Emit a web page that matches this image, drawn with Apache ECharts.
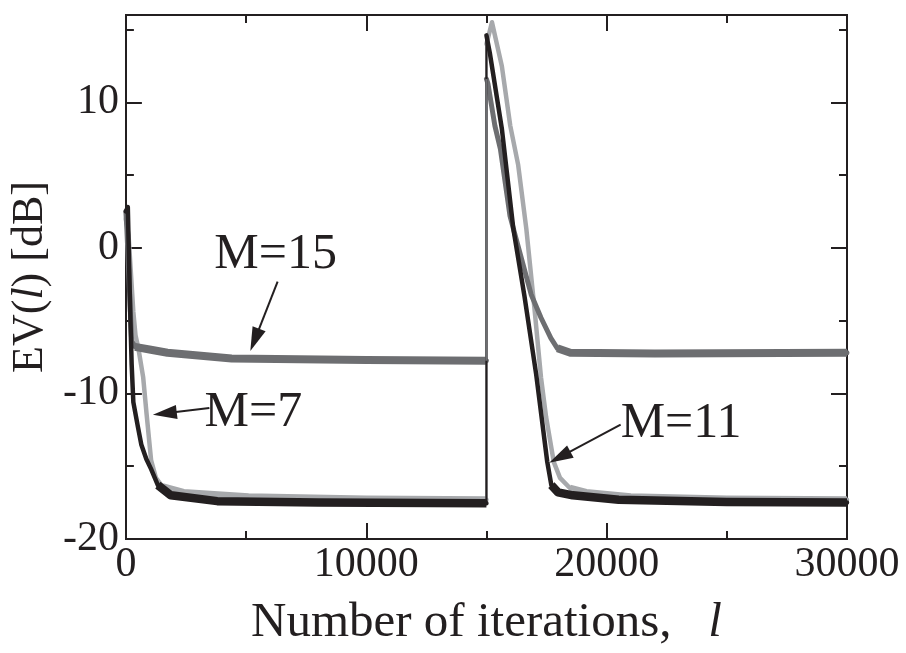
<!DOCTYPE html>
<html><head><meta charset="utf-8">
<script src="https://cdn.jsdelivr.net/npm/echarts@6/dist/echarts.min.js"></script>
<style>html,body{margin:0;padding:0;background:#fff}#c{width:906px;height:653px}</style>
</head><body><div id="c"></div>
<script>
// ---- data (iteration, EV in dB) ----
const xTickValues = [0, 10000, 20000, 30000];
const yTickValues = [-20, -10, 0, 10];

// M=7 (light gray)
const m7Seg1 = [[0,2.0],[110,0.9],[310,-4.4],[400,-6.0],[520,-6.9],[720,-8.9],[860,-11.4],[1050,-14.6],[1250,-15.8],[1520,-16.4],[2400,-16.8],[5100,-17.1],[10000,-17.25],[15000,-17.3]];
const m7Seg2 = [[15000,14.0],[15230,15.5],[15640,12.5],[15990,8.4],[16320,5.7],[16660,1.3],[17000,-4.2],[17270,-8.9],[17480,-11.6],[17800,-14.7],[18060,-15.8],[18470,-16.5],[19150,-16.8],[21000,-17.1],[25000,-17.25],[30000,-17.3]];

// M=11 (black)
const m11Seg1 = [[0,2.5],[80,2.8],[180,-4.4],[240,-8.0],[310,-10.6],[500,-12.3],[640,-13.5],[850,-14.5],[1050,-15.2],[1330,-16.3],[1870,-17.0],[3800,-17.4],[8000,-17.5],[15000,-17.55]];
const m11Seg2 = [[15000,14.6],[15140,13.4],[15640,8.2],[16120,1.3],[16580,-3.3],[17070,-8.7],[17530,-14.7],[17700,-16.3],[17980,-16.8],[18590,-17.0],[20500,-17.3],[25000,-17.45],[30000,-17.5]];

// M=15 (medium gray)
const m15Seg1 = [[0,2.5],[40,1.3],[240,-6.4],[380,-6.8],[1040,-7.0],[1730,-7.2],[4400,-7.6],[10000,-7.7],[15000,-7.75]];
const m15Seg2 = [[15000,11.6],[15060,11.3],[15350,8.4],[15580,6.8],[15980,2.2],[16190,0.9],[16860,-3.2],[17270,-4.8],[17680,-6.2],[17950,-6.9],[18490,-7.2],[22000,-7.25],[30000,-7.2]];

// annotations (data coordinates)
const annoLabels = ['M=15', 'M=7', 'M=11'];
const annoTextAt = [[3677,-0.49],[3272,-11.35],[20583,-12.07]];
const annoArrowFrom = [[6312,-2.31],[3474,-11.0],[20583,-12.15]];
const annoArrowTo = [[5177,-7.09],[1123,-11.47],[17611,-14.77]];

// ---- style ----
const INK = '#231f20';
const C_LIGHT = '#a7a9ac', C_MID = '#6d6e71', C_BLACK = '#231f20';
const FONT = '"Liberation Serif", "Times New Roman", serif';

function line(data, color, width, z, cap) {
  return { type:'line', data, symbol:'none', showSymbol:false, silent:true, animation:false,
    xAxisIndex:0, yAxisIndex:0, z, lineStyle:{ color, width, join:'round', cap: cap || 'round' } };
}
function jump(a, b, color, z) {
  return line([[a[a.length-1][0], a[a.length-1][1]], [b[0][0], b[0][1]]], color, 2.2, z, 'butt');
}
// noisy steady-state floors drawn as a thicker band over the flat tail of each curve
function band(data, color, width, z) { return line(data, color, width, z, 'butt'); }

const tickStyle = { color: INK, width: 2 };
const baseX = { type:'value', min:0, max:30000, interval:10000, splitLine:{show:false},
  axisLine:{ show:true, onZero:false, lineStyle:{ color:INK, width:2 } },
  axisTick:{ show:true, inside:true, length:16, lineStyle:tickStyle },
  minorTick:{ show:true, splitNumber:2, length:8, lineStyle:tickStyle } };
const baseY = { type:'value', min:-20, max:16, splitLine:{show:false},
  axisLine:{ show:true, onZero:false, lineStyle:{ color:INK, width:2 } },
  axisTick:{ show:true, inside:true, lineStyle:tickStyle } };

const option = {
  backgroundColor:'#fff',
  animation:false,
  grid:{ left:107, right:59, top:15, bottom:110, containLabel:false },
  xAxis:[
    Object.assign({}, baseX, { position:'bottom',
      axisLabel:{ show:true, margin:5, fontSize:42, fontFamily:FONT, color:INK,
        formatter: v => xTickValues.includes(v) ? String(v) : '' },
      name:'{n|Number of iterations,   }{i|l}', nameLocation:'middle', nameGap:60,
      nameTextStyle:{ rich:{ n:{ fontSize:49, fontFamily:FONT, color:INK }, i:{ fontSize:49, fontFamily:FONT, fontStyle:'italic', color:INK } } } }),
    Object.assign({}, baseX, { position:'top', axisLabel:{show:false} })
  ],
  yAxis:[
    Object.assign({}, baseY, { position:'left', interval:10,
      axisTick:{ show:true, inside:true, length:16, lineStyle:tickStyle },
      axisLabel:{ show:true, margin:7, fontSize:42, fontFamily:FONT, color:INK,
        formatter: v => yTickValues.includes(v) ? String(v) : '' },
      name:'{n|EV(}{i|l}{n|) [dB]}', nameLocation:'middle', nameGap:53,
      nameTextStyle:{ rich:{ n:{ fontSize:44, fontFamily:FONT, color:INK }, i:{ fontSize:44, fontFamily:FONT, fontStyle:'italic', color:INK } } } }),
    Object.assign({}, baseY, { position:'left', interval:5, axisLabel:{show:false},
      axisTick:{ show:true, inside:true, length:8, lineStyle:tickStyle } }),
    Object.assign({}, baseY, { position:'right', interval:10, axisLabel:{show:false},
      axisTick:{ show:true, inside:true, length:16, lineStyle:tickStyle } }),
    Object.assign({}, baseY, { position:'right', interval:5, axisLabel:{show:false},
      axisTick:{ show:true, inside:true, length:8, lineStyle:tickStyle } })
  ],
  series:[
    line(m7Seg1, C_LIGHT, 4.5, 2), line(m7Seg2, C_LIGHT, 4.5, 2), jump(m7Seg1, m7Seg2, C_LIGHT, 2),
    band(m7Seg1.slice(9), C_LIGHT, 7, 2), band(m7Seg2.slice(11), C_LIGHT, 7, 2),
    line(m15Seg1, C_MID, 5, 3), line(m15Seg2, C_MID, 5, 3), jump(m15Seg1, m15Seg2, C_MID, 5),
    band(m15Seg1.slice(3), C_MID, 8, 3), band(m15Seg2.slice(9), C_MID, 8, 3),
    line(m11Seg1, C_BLACK, 4.5, 4), line(m11Seg2, C_BLACK, 4.5, 4), jump(m11Seg1, m11Seg2, C_BLACK, 4),
    band(m11Seg1.slice(9), C_BLACK, 8.5, 4), band(m11Seg2.slice(7), C_BLACK, 8.5, 4)
  ]
};

const chart = echarts.init(document.getElementById('c'), null, { renderer:'canvas' });
chart.setOption(option);

const px = p => chart.convertToPixel({ xAxisIndex:0, yAxisIndex:0 }, p);
const g = [];
annoLabels.forEach((label, k) => {
  const t = px(annoTextAt[k]);
  g.push({ type:'text', x:t[0], y:t[1], z:100, silent:true,
    style:{ text:label, font:'50px ' + FONT, fill:INK, align:'left', verticalAlign:'middle' } });
  const s = px(annoArrowFrom[k]), e = px(annoArrowTo[k]);
  const dx = e[0]-s[0], dy = e[1]-s[1], L = Math.hypot(dx, dy), ux = dx/L, uy = dy/L;
  const hl = 24, hw = 7;
  const bx = e[0]-ux*hl, by = e[1]-uy*hl;
  g.push({ type:'line', z:100, silent:true, shape:{ x1:s[0], y1:s[1], x2:bx+ux*3, y2:by+uy*3 },
    style:{ stroke:INK, lineWidth:2 } });
  g.push({ type:'polygon', z:100, silent:true,
    shape:{ points:[[e[0],e[1]],[bx-uy*hw, by+ux*hw],[bx+uy*hw, by-ux*hw]] },
    style:{ fill:INK } });
});
chart.setOption({ graphic: g });
</script>
</body></html>
